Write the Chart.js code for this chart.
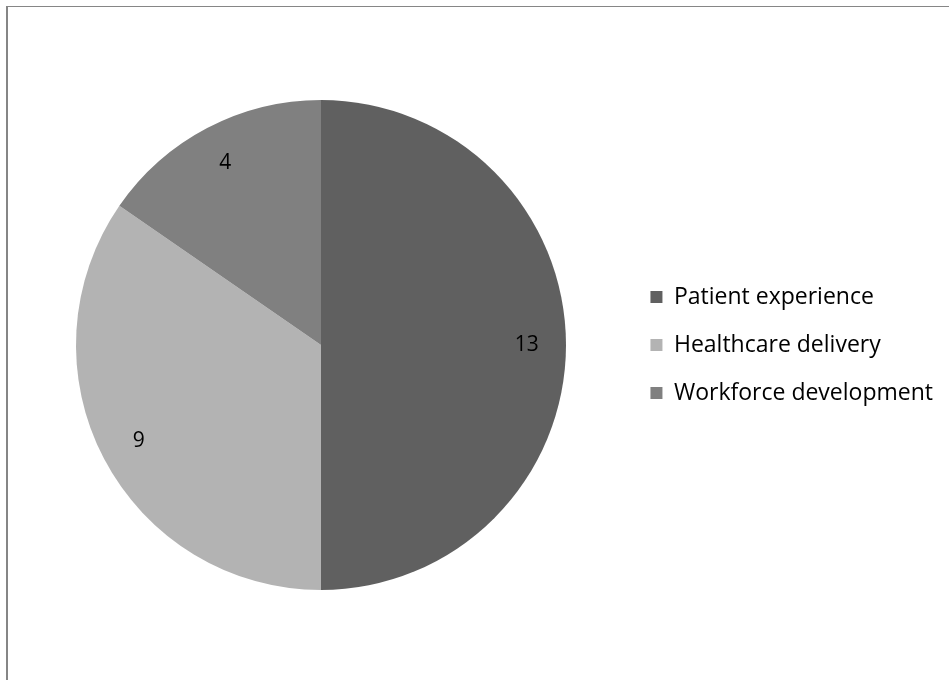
<!DOCTYPE html>
<html>
<head>
<meta charset="utf-8">
<script src="https://cdn.jsdelivr.net/npm/chart.js@4"></script>
<style>
  html, body { margin: 0; padding: 0; background: #fff; overflow: hidden; }
  #wrap { position: relative; width: 949px; height: 680px; }
  #frame {
    position: absolute; left: 6px; top: 6px; width: 960px; height: 700px;
    border-top: 1px solid #868686; border-left: 2px solid #868686;
  }
  canvas { position: absolute; left: 0; top: 0; }
</style>
</head>
<body>
<div id="wrap">
  <div id="frame"></div>
  <canvas id="myChart" width="949" height="680"></canvas>
</div>
<script>
const categories = ['Patient experience', 'Healthcare delivery', 'Workforce development'];
const counts = [13, 9, 4];
const sliceColors = ['#606060', '#b3b3b3', '#808080'];

// keep the pie square on the left, the legend stays where chart.js put it
const pieArea = {
  id: 'pieArea',
  afterLayout(chart) {
    const a = chart.chartArea;
    a.right = a.left + (a.bottom - a.top);
    a.width = a.right - a.left;
  }
};

// value labels inside each slice
const sliceLabels = {
  id: 'sliceLabels',
  afterDatasetsDraw(chart) {
    const ctx = chart.ctx;
    const meta = chart.getDatasetMeta(0);
    ctx.save();
    ctx.font = '21px "Open Sans"';
    ctx.fillStyle = '#000';
    ctx.textAlign = 'center';
    ctx.textBaseline = 'middle';
    meta.data.forEach((arc, i) => {
      const mid = (arc.startAngle + arc.endAngle) / 2;
      const r = arc.outerRadius * 0.84;
      ctx.fillText(String(counts[i]), arc.x + Math.cos(mid) * r, arc.y + Math.sin(mid) * r);
    });
    ctx.restore();
  }
};

const ctx = document.getElementById('myChart');
new Chart(ctx, {
  type: 'pie',
  data: {
    labels: categories,
    datasets: [{
      data: counts,
      backgroundColor: sliceColors,
      borderWidth: 0
    }]
  },
  options: {
    responsive: false,
    animation: false,
    layout: { padding: { left: 76, top: 100, bottom: 90, right: 6 } },
    plugins: {
      tooltip: { enabled: false },
      legend: {
        position: 'right',
        labels: {
          boxWidth: 12,
          boxHeight: 12,
          padding: 25,
          color: '#000',
          font: { family: 'Open Sans', size: 23 }
        }
      }
    }
  },
  plugins: [pieArea, sliceLabels]
});
</script>
</body>
</html>
